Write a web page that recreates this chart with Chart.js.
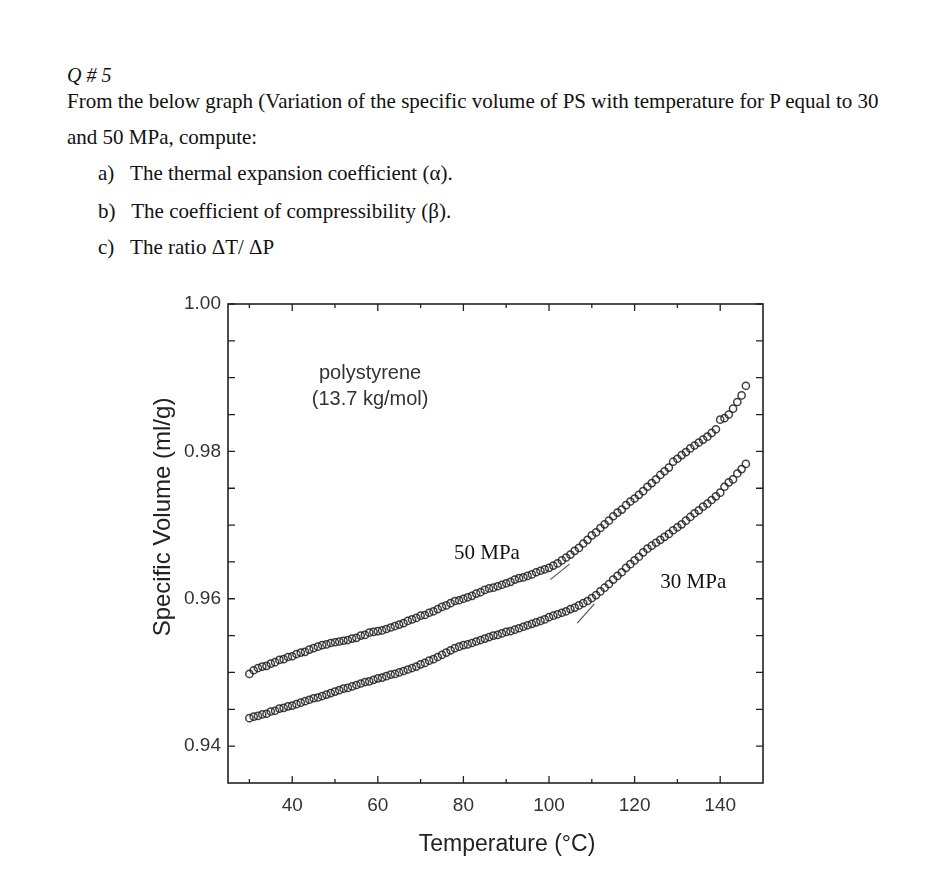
<!DOCTYPE html>
<html>
<head>
<meta charset="utf-8">
<script src="https://cdn.jsdelivr.net/npm/chart.js@4.4.0/dist/chart.umd.min.js"></script>
<style>
  html, body { margin: 0; padding: 0; background: #fff; }
  body { width: 926px; height: 872px; position: relative; overflow: hidden;
         font-family: "Liberation Serif", "Times New Roman", serif; color: #111; }
  .q { position: absolute; font-size: 21px; line-height: 24px; white-space: nowrap; }
  #chart { position: absolute; left: 0; top: 280px; }
</style>
</head>
<body>
<div class="q" style="left:67px; top:63px; font-size:20px; font-style:italic;">Q # 5</div>
<div class="q" style="left:67px; top:89px;">From the below graph (Variation of the specific volume of PS with temperature for P equal to 30</div>
<div class="q" style="left:67px; top:125px;">and 50 MPa, compute:</div>
<div class="q" style="left:98px; top:161px;">a)&nbsp;&nbsp;&nbsp;The thermal expansion coefficient (α).</div>
<div class="q" style="left:98px; top:199px;">b)&nbsp;&nbsp;&nbsp;The coefficient of compressibility (β).</div>
<div class="q" style="left:98px; top:235px;">c)&nbsp;&nbsp;&nbsp;The ratio ΔT/ ΔP</div>

<canvas id="chart" width="926" height="592"></canvas>

<script>
// temperatures (°C) of the measured points
const temps = [
  30, 31, 32, 33, 34, 35, 36, 37, 38, 39,
  40, 41, 42, 43, 44, 45, 46, 47, 48, 49,
  50, 51, 52, 53, 54, 55, 56, 57, 58, 59,
  60, 61, 62, 63, 64, 65, 66, 67, 68, 69,
  70, 71, 72, 73, 74, 75, 76, 77, 78, 79,
  80, 81, 82, 83, 84, 85, 86, 87, 88, 89,
  90, 91, 92, 93, 94, 95, 96, 97, 98, 99,
  100, 101, 102, 103, 104, 105, 106, 107, 108, 109,
  110, 111, 112, 113, 114, 115, 116, 117, 118, 119,
  120, 121, 122, 123, 124, 125, 126, 127, 128, 129,
  130, 131, 132, 133, 134, 135, 136, 137, 138, 139,
  140, 141, 142, 143, 144, 145, 146
];

// specific volume (ml/g), upper curve labelled 50 MPa
const vol50 = [
  0.9498, 0.9503, 0.9506, 0.9508, 0.9509, 0.9512, 0.9514, 0.9517, 0.9518, 0.9521,
  0.9522, 0.9525, 0.9527, 0.9528, 0.9531, 0.9533, 0.9535, 0.9537, 0.9538, 0.9540,
  0.9541, 0.9542, 0.9543, 0.9544, 0.9546, 0.9547, 0.9550, 0.9551, 0.9554, 0.9555,
  0.9556, 0.9557, 0.9559, 0.9561, 0.9563, 0.9565, 0.9567, 0.9570, 0.9572, 0.9574,
  0.9577, 0.9578, 0.9581, 0.9583, 0.9586, 0.9589, 0.9591, 0.9594, 0.9597, 0.9598,
  0.9600, 0.9602, 0.9604, 0.9607, 0.9609, 0.9612, 0.9614, 0.9615, 0.9617, 0.9619,
  0.9621, 0.9623, 0.9626, 0.9628, 0.9629, 0.9631, 0.9633, 0.9636, 0.9638, 0.9640,
  0.9642, 0.9645, 0.9648, 0.9652, 0.9656, 0.9660, 0.9665, 0.9669, 0.9675, 0.9680,
  0.9686, 0.9690, 0.9696, 0.9701, 0.9706, 0.9712, 0.9717, 0.9721, 0.9727, 0.9732,
  0.9736, 0.9741, 0.9746, 0.9752, 0.9757, 0.9762, 0.9768, 0.9773, 0.9778, 0.9786,
  0.9790, 0.9795, 0.9799, 0.9804, 0.9808, 0.9812, 0.9816, 0.9820, 0.9825, 0.9830,
  0.9843, 0.9845, 0.9850, 0.9858, 0.9867, 0.9876, 0.9889
];

// specific volume (ml/g), lower curve labelled 30 MPa
const vol30 = [
  0.9438, 0.9440, 0.9441, 0.9443, 0.9444, 0.9447, 0.9448, 0.9451, 0.9452, 0.9454,
  0.9455, 0.9457, 0.9459, 0.9461, 0.9463, 0.9465, 0.9466, 0.9468, 0.9470, 0.9472,
  0.9474, 0.9476, 0.9478, 0.9479, 0.9481, 0.9483, 0.9485, 0.9487, 0.9488, 0.9490,
  0.9492, 0.9493, 0.9495, 0.9497, 0.9498, 0.9500, 0.9502, 0.9504, 0.9506, 0.9508,
  0.9511, 0.9513, 0.9516, 0.9518, 0.9521, 0.9524, 0.9527, 0.9530, 0.9533, 0.9535,
  0.9537, 0.9538, 0.9540, 0.9542, 0.9544, 0.9546, 0.9548, 0.9550, 0.9551, 0.9553,
  0.9555, 0.9556, 0.9558, 0.9560, 0.9562, 0.9564, 0.9566, 0.9568, 0.9570, 0.9572,
  0.9575, 0.9577, 0.9579, 0.9581, 0.9583, 0.9586, 0.9588, 0.9591, 0.9594, 0.9597,
  0.9601, 0.9605, 0.9610, 0.9615, 0.9620, 0.9626, 0.9631, 0.9636, 0.9642, 0.9647,
  0.9652, 0.9657, 0.9663, 0.9668, 0.9672, 0.9676, 0.9680, 0.9684, 0.9688, 0.9693,
  0.9697, 0.9701, 0.9706, 0.9711, 0.9716, 0.9720, 0.9725, 0.9729, 0.9734, 0.9739,
  0.9744, 0.9752, 0.9758, 0.9762, 0.9770, 0.9776, 0.9783
];

// short extrapolation segments near Tg
const tangent50T = [100.3, 104.8];
const tangent50V = [0.9626, 0.9647];
const tangent30T = [106.6, 110.6];
const tangent30V = [0.9567, 0.9593];

// axis ticks
const xTickLabels = [40, 60, 80, 100, 120, 140];
const xMinorTicks = [30, 50, 70, 90, 110, 130];
const yTickLabels = [0.94, 0.96, 0.98, 1.00];
const yMinorTicks = [0.945, 0.95, 0.955, 0.965, 0.97, 0.975, 0.985, 0.99, 0.995];

const toPoints = (xs, ys) => xs.map((t, i) => ({ x: t, y: ys[i] }));

const frameAndText = {
    id: "frameAndText",
    afterDraw(chart) {
        const { ctx, chartArea: { left, right, top, bottom }, scales: { x, y } } = chart;
        ctx.save();
        ctx.strokeStyle = "#222";
        ctx.lineWidth = 1.6;
        ctx.strokeRect(left, top, right - left, bottom - top);

        ctx.lineWidth = 1.3;
        ctx.beginPath();
        xTickLabels.forEach(v => {
            const px = x.getPixelForValue(v);
            ctx.moveTo(px, bottom); ctx.lineTo(px, bottom - 7);
            ctx.moveTo(px, top); ctx.lineTo(px, top + 7);
        });
        xMinorTicks.forEach(v => {
            const px = x.getPixelForValue(v);
            ctx.moveTo(px, bottom); ctx.lineTo(px, bottom - 4);
            ctx.moveTo(px, top); ctx.lineTo(px, top + 4);
        });
        yTickLabels.concat(yMinorTicks).forEach(v => {
            const py = y.getPixelForValue(v);
            ctx.moveTo(left, py); ctx.lineTo(left + 7, py);
            ctx.moveTo(right, py); ctx.lineTo(right - 7, py);
        });
        ctx.stroke();

        // axis titles
        ctx.fillStyle = "#222";
        ctx.textAlign = "center";
        ctx.textBaseline = "middle";
        ctx.font = "23px 'Liberation Sans', Arial, sans-serif";
        ctx.fillText("Temperature (°C)", left + 279, bottom + 62);
        ctx.save();
        ctx.translate(left - 65, top + 213);
        ctx.rotate(-Math.PI / 2);
        ctx.font = "24px 'Liberation Sans', Arial, sans-serif";
        ctx.fillText("Specific Volume (ml/g)", 0, 0);
        ctx.restore();

        ctx.fillStyle = "#333";
        ctx.font = "20px 'Liberation Sans', Arial, sans-serif";
        ctx.fillText("polystyrene", x.getPixelForValue(58.2), y.getPixelForValue(0.9906));
        ctx.fillText("(13.7 kg/mol)", x.getPixelForValue(58.2), y.getPixelForValue(0.9870));

        ctx.fillStyle = "#111";
        ctx.font = "21px 'Liberation Serif', 'Times New Roman', serif";
        ctx.fillText("50 MPa", x.getPixelForValue(85.5), y.getPixelForValue(0.9661));
        ctx.fillText("30 MPa", x.getPixelForValue(133.7), y.getPixelForValue(0.9622));
        ctx.restore();
    }
};

const markerStyle = {
    showLine: false,
    pointStyle: "circle",
    pointRadius: 3.6,
    pointBorderWidth: 1.5,
    pointBackgroundColor: "rgba(0,0,0,0)",
    pointBorderColor: "rgba(30,30,30,0.85)"
};

new Chart(document.getElementById("chart").getContext("2d"), {
    type: "scatter",
    data: {
        datasets: [
            { label: "50 MPa", data: toPoints(temps, vol50), ...markerStyle },
            { label: "30 MPa", data: toPoints(temps, vol30), ...markerStyle },
            { label: "tangent 50", data: toPoints(tangent50T, tangent50V), showLine: true,
              borderColor: "#555", borderWidth: 1.2, pointRadius: 0 },
            { label: "tangent 30", data: toPoints(tangent30T, tangent30V), showLine: true,
              borderColor: "#555", borderWidth: 1.2, pointRadius: 0 }
        ]
    },
    options: {
        responsive: false,
        animation: false,
        devicePixelRatio: 1,
        layout: { padding: { left: 140, right: 163, top: 24, bottom: 0 } },
        plugins: { legend: { display: false }, tooltip: { enabled: false } },
        scales: {
            x: {
                type: "linear",
                min: 25, max: 150,
                afterBuildTicks: s => { s.ticks = xTickLabels.map(v => ({ value: v })); },
                afterFit: s => { s.height = 89; },
                grid: { display: false, drawTicks: false },
                border: { display: false },
                ticks: {
                    padding: 11,
                    color: "#333",
                    font: { family: "'Liberation Sans', Arial, sans-serif", size: 19 },
                    callback: v => String(v)
                }
            },
            y: {
                type: "linear",
                min: 0.935, max: 1.00,
                afterBuildTicks: s => { s.ticks = yTickLabels.map(v => ({ value: v })); },
                afterFit: s => { s.width = 88; },
                grid: { display: false, drawTicks: false },
                border: { display: false },
                ticks: {
                    padding: 7,
                    color: "#333",
                    font: { family: "'Liberation Sans', Arial, sans-serif", size: 19 },
                    callback: v => v.toFixed(2)
                }
            }
        }
    },
    plugins: [frameAndText]
});
</script>
</body>
</html>
